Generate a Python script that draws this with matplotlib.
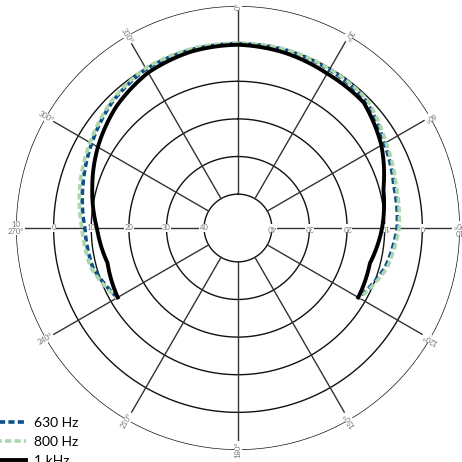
import numpy as np
import matplotlib
matplotlib.use('Agg')
import matplotlib.pyplot as plt

plt.rcParams['font.family'] = ['Lato', 'DejaVu Sans']

# polar pattern, compass angles (deg, clockwise from front) and level in dB
angles_deg = [240, 255, 270, 285, 300, 315, 330, 345, 0, 15, 30, 45, 60, 75, 90, 105, 120]
hz630 = [-12.0, -9.0, -8.3, -6.3, -4.1, -1.7, -0.2, 0.0, 0.0, 0.0, -0.4, -1.0, -4.1, -6.1, -6.7, -8.5, -12.0]
hz800 = [-11.8, -8.5, -7.5, -5.5, -3.6, -1.4, 0.1, 0.2, 0.1, 0.1, -0.2, -0.6, -3.6, -5.5, -6.2, -8.0, -11.8]
khz1 = [-12.1, -13.1, -11.5, -8.9, -6.0, -3.3, -1.3, -0.5, -0.3, -0.8, -1.6, -1.8, -5.0, -9.0, -10.7, -12.7, -12.1]

ring_levels = [-40, -30, -20, -10, 0, 10]
ring_labels = ['40', '30', '20', '10', '0']
spoke_angles = [0, 30, 60, 90, 120, 150, 180, 210, 240, 270, 300, 330]
angle_labels = ['0°', '30°', '60°', '90°', '120°', '150°', '180°', '210°', '240°', '270°', '300°', '330°']

series = [
    ('630 Hz', hz630, '#0b4f8c', 2.6, (0, (1.7, 0.9))),
    ('800 Hz', hz800, '#acd6ac', 2.6, (0.9, (1.7, 0.9))),
    ('1 kHz', khz1, '#000000', 2.8, '-'),
]

fig = plt.figure(figsize=(4.62, 4.62), dpi=100)
ax = fig.add_axes([0.0346, 0.026, 0.961, 0.961], projection='polar')
ax.set_theta_zero_location('N')
ax.set_theta_direction(-1)
ax.set_ylim(-49, 10)
ax.grid(False)
ax.set_xticks([])
ax.set_yticks([])
ax.spines['polar'].set_visible(False)

full = np.linspace(0, 2 * np.pi, 400)
for lev in ring_levels:
    ax.plot(full, np.full_like(full, lev), color='#111111', lw=1.0, zorder=1)
for a in spoke_angles:
    ax.plot([np.deg2rad(a)] * 2, [-40, 10], color='#333333', lw=1.0, zorder=1)

box = dict(facecolor='white', edgecolor='none', pad=0.4)
lab_kw = dict(fontsize=5.5, color='#777777', ha='center', va='center',
              rotation_mode='anchor', bbox=box, zorder=3)

for lev, txt in zip(ring_levels[:-1], ring_labels):
    ax.text(np.deg2rad(270), lev, txt, rotation=0, **lab_kw)
    ax.text(np.deg2rad(90), lev, txt, rotation=180, **lab_kw)

for a, txt in zip(spoke_angles, angle_labels):
    if a == 270:
        ax.text(np.deg2rad(a), 10, '10\n' + txt, rotation=0, linespacing=0.9, **lab_kw)
    elif a == 90:
        ax.text(np.deg2rad(a), 9.6, '10\n' + txt, rotation=180, linespacing=0.9, **lab_kw)
    elif a in (0, 180):
        ax.text(np.deg2rad(a), 10, txt, rotation=90, **lab_kw)
    else:
        rot = (90 - a) + 180
        ax.text(np.deg2rad(a), 10, txt, rotation=rot, **lab_kw)

theta = np.deg2rad(np.where(np.array(angles_deg) < 180, np.array(angles_deg) + 360, angles_deg))
handles = []
for name, vals, col, lw, ls in series:
    ln, = ax.plot(theta, vals, color=col, lw=lw, linestyle=ls, label=name, zorder=4)
    # follow the polar grid between points instead of straight chords
    ln.get_path()._interpolation_steps = 40
    handles.append(ln)

fig.legend(handles=handles, loc='lower left', bbox_to_anchor=(-0.004, -0.010),
           frameon=False, fontsize=10, handlelength=2.0, handletextpad=0.6,
           labelspacing=0.5, borderpad=0, borderaxespad=0)

fig.savefig('out.png', dpi=100)
